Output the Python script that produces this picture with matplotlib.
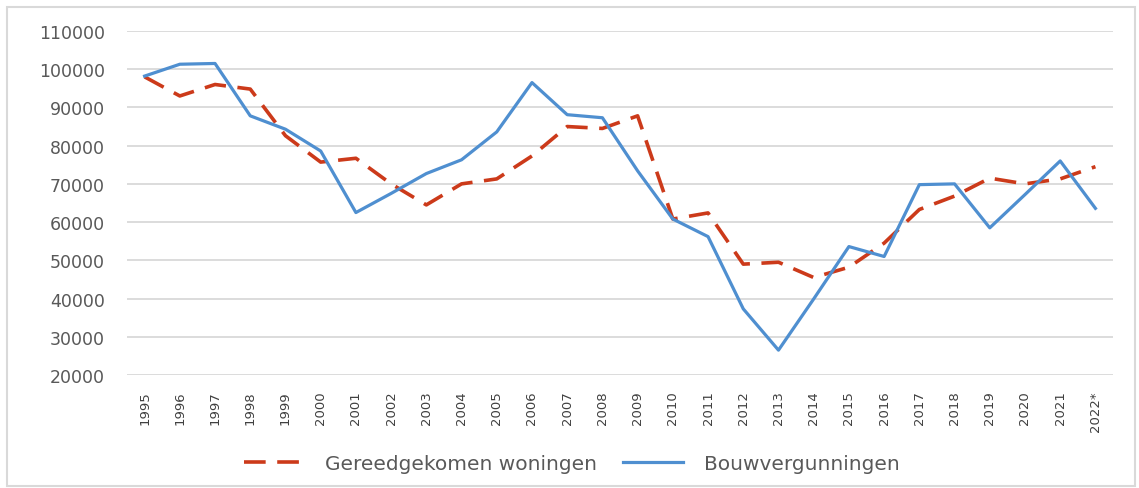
import matplotlib
matplotlib.use('Agg')
import matplotlib.pyplot as plt
from matplotlib.patches import Rectangle
import numpy as np

years = ['1995', '1996', '1997', '1998', '1999', '2000', '2001', '2002', '2003',
         '2004', '2005', '2006', '2007', '2008', '2009', '2010', '2011', '2012',
         '2013', '2014', '2015', '2016', '2017', '2018', '2019', '2020', '2021',
         '2022*']

# Gereedgekomen woningen (red dashed)
gereed = [98000, 93000, 96000, 94800, 82600, 75700, 76700, 70000, 64500,
          70000, 71300, 77300, 85000, 84500, 87800, 60800, 62400, 49000,
          49500, 45500, 48200, 54500, 63300, 66800, 71500, 70000, 71300,
          74500]

# Bouwvergunningen (blue solid)
bouw = [98200, 101300, 101500, 87800, 84300, 78600, 62500, 67500, 72700,
        76300, 83600, 96500, 88100, 87300, 73400, 60800, 56200, 37300,
        26500, 39900, 53600, 51000, 69800, 70000, 58500, 67200, 76000,
        63600]

yticks = list(range(20000, 110001, 10000))

text_color = '#595959'
red = '#CC3A1A'
blue = '#4F8FD0'

fig = plt.figure(figsize=(11.39, 4.89), dpi=100)
ax = fig.add_axes([0.1115, 0.2311, 0.8657, 0.7035])

x = np.arange(len(years))
ax.plot(x, gereed, color=red, lw=2.6, dashes=(6, 3.2), label='Gereedgekomen woningen',
        solid_joinstyle='round', dash_capstyle='butt', zorder=3)
ax.plot(x, bouw, color=blue, lw=2.3, label='Bouwvergunningen', zorder=4)

ax.set_xlim(-0.5, len(years) - 0.5)
ax.set_ylim(20000, 110000)
ax.set_yticks(yticks)
ax.set_yticklabels([str(v) for v in yticks], fontsize=12.5, color=text_color)
ax.set_xticks(x)
ax.set_xticklabels(years, rotation=90, fontsize=9.5, color='#404040')
ax.tick_params(axis='y', length=0, pad=16)
ax.tick_params(axis='x', length=0, pad=11)
ax.grid(axis='y', color='#D9D9D9', lw=1.3)
ax.set_axisbelow(True)
for s in ax.spines.values():
    s.set_visible(False)

leg = fig.legend(loc='center', bbox_to_anchor=(0.502, 0.05), ncol=2, frameon=False,
                 fontsize=14.5, handlelength=3.0, columnspacing=1.3, handletextpad=1.0)
for t in leg.get_texts():
    t.set_color(text_color)

fig.patches.append(Rectangle((7 / 1139, 2 / 489), 1128 / 1139, 479 / 489,
                             transform=fig.transFigure, fill=False,
                             edgecolor='#D9D9D9', lw=1.5))

fig.savefig('out.png', dpi=100)
